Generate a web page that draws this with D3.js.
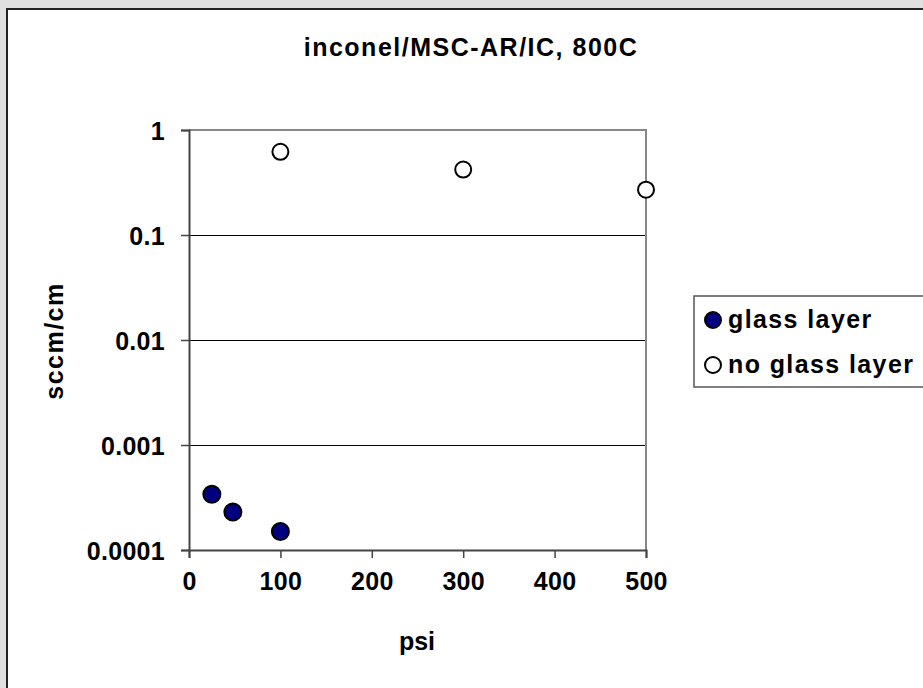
<!DOCTYPE html>
<html>
<head>
<meta charset="utf-8">
<script src="https://cdn.jsdelivr.net/npm/d3@7"></script>
<style>
  body { margin: 0; background: #e0e0e0; }
  svg { display: block; font-family: "Liberation Sans", Arial, sans-serif; }
  .tick text { font-size: 25px; font-weight: bold; fill: #000; letter-spacing: 0.3px; }
</style>
</head>
<body>
<script>
// chart data
var titleText = "inconel/MSC-AR/IC, 800C";
var seriesNames = ["glass layer", "no glass layer"];
var glassPsi = [25, 48, 100];
var glassFlow = [0.00034, 0.00023, 0.00015];
var noGlassPsi = [100, 300, 500];
var noGlassFlow = [0.62, 0.42, 0.27];
var xTicks = [0, 100, 200, 300, 400, 500];
var yTicks = [0.0001, 0.001, 0.01, 0.1, 1];
var yTickLabels = ["0.0001", "0.001", "0.01", "0.1", "1"];

var W = 923, H = 688;
var plot = {left: 189, top: 130, right: 646, bottom: 550};

var svg = d3.select("body").append("svg")
    .attr("width", W)
    .attr("height", H);

// chart frame (only top & left edges fall inside the picture)
svg.append("rect")
    .attr("x", 7).attr("y", 9)
    .attr("width", W).attr("height", H)
    .attr("fill", "#fff")
    .attr("stroke", "#222")
    .attr("stroke-width", 2);

var x = d3.scaleLinear().domain([0, 500]).range([plot.left, plot.right]);
var y = d3.scaleLog().domain([0.0001, 1]).range([plot.bottom, plot.top]);

// grid lines
svg.append("g").selectAll("line")
    .data(yTicks.slice(1, -1))
    .enter().append("line")
    .attr("x1", plot.left).attr("x2", plot.right)
    .attr("y1", function(d) { return Math.round(y(d)) + 0.5; })
    .attr("y2", function(d) { return Math.round(y(d)) + 0.5; })
    .attr("stroke", "#000")
    .attr("stroke-width", 1);

// plot border top/right
svg.append("path")
    .attr("d", "M" + plot.left + "," + plot.top + "H" + plot.right + "V" + plot.bottom)
    .attr("fill", "none")
    .attr("stroke", "#888")
    .attr("stroke-width", 2);

// axes
var xAxis = svg.append("g")
    .attr("transform", "translate(0," + plot.bottom + ")")
    .call(d3.axisBottom(x).tickValues(xTicks).tickSize(8).tickPadding(14).tickFormat(d3.format("d")));

var yAxis = svg.append("g")
    .attr("transform", "translate(" + plot.left + ",0)")
    .call(d3.axisLeft(y).tickValues(yTicks).tickSize(8).tickPadding(16)
        .tickFormat(function(d, i) { return yTickLabels[i]; }));

[xAxis, yAxis].forEach(function(a) {
  a.select(".domain").attr("stroke", "#444").attr("stroke-width", 2);
  a.selectAll(".tick line").attr("stroke", "#444").attr("stroke-width", 1.5);
});
yAxis.selectAll(".tick text").attr("dy", "0.36em");

// title
svg.append("text")
    .attr("x", 471).attr("y", 56)
    .attr("text-anchor", "middle")
    .style("font-size", "25px").style("font-weight", "bold")
    .style("letter-spacing", "1.5px")
    .text(titleText);

// axis titles
svg.append("text")
    .attr("x", 417).attr("y", 650)
    .attr("text-anchor", "middle")
    .style("font-size", "25px").style("font-weight", "bold")
    .text("psi");

svg.append("text")
    .attr("transform", "translate(63,341) rotate(-90)")
    .attr("text-anchor", "middle")
    .style("font-size", "25px").style("font-weight", "bold")
    .style("letter-spacing", "1.5px")
    .text("sccm/cm");

// data points
svg.append("g").selectAll("circle")
    .data(d3.zip(noGlassPsi, noGlassFlow))
    .enter().append("circle")
    .attr("cx", function(d) { return x(d[0]); })
    .attr("cy", function(d) { return y(d[1]); })
    .attr("r", 8)
    .attr("fill", "#fff")
    .attr("stroke", "#000")
    .attr("stroke-width", 2);

svg.append("g").selectAll("circle")
    .data(d3.zip(glassPsi, glassFlow))
    .enter().append("circle")
    .attr("cx", function(d) { return x(d[0]); })
    .attr("cy", function(d) { return y(d[1]); })
    .attr("r", 8.5)
    .attr("fill", "#000080")
    .attr("stroke", "#000")
    .attr("stroke-width", 2);

// legend
var legend = svg.append("g");
legend.append("rect")
    .attr("x", 694).attr("y", 296)
    .attr("width", 260).attr("height", 91)
    .attr("fill", "#fff")
    .attr("stroke", "#555")
    .attr("stroke-width", 1.5);

var legendFill = ["#000080", "#fff"];
seriesNames.forEach(function(name, i) {
  var cy = 320 + i * 45;
  legend.append("circle")
      .attr("cx", 713).attr("cy", cy)
      .attr("r", 8)
      .attr("fill", legendFill[i])
      .attr("stroke", "#000")
      .attr("stroke-width", 2);
  legend.append("text")
      .attr("x", 728).attr("y", cy + 8)
      .style("font-size", "25px").style("font-weight", "bold")
      .style("letter-spacing", "1.4px")
      .text(name);
});
</script>
</body>
</html>
